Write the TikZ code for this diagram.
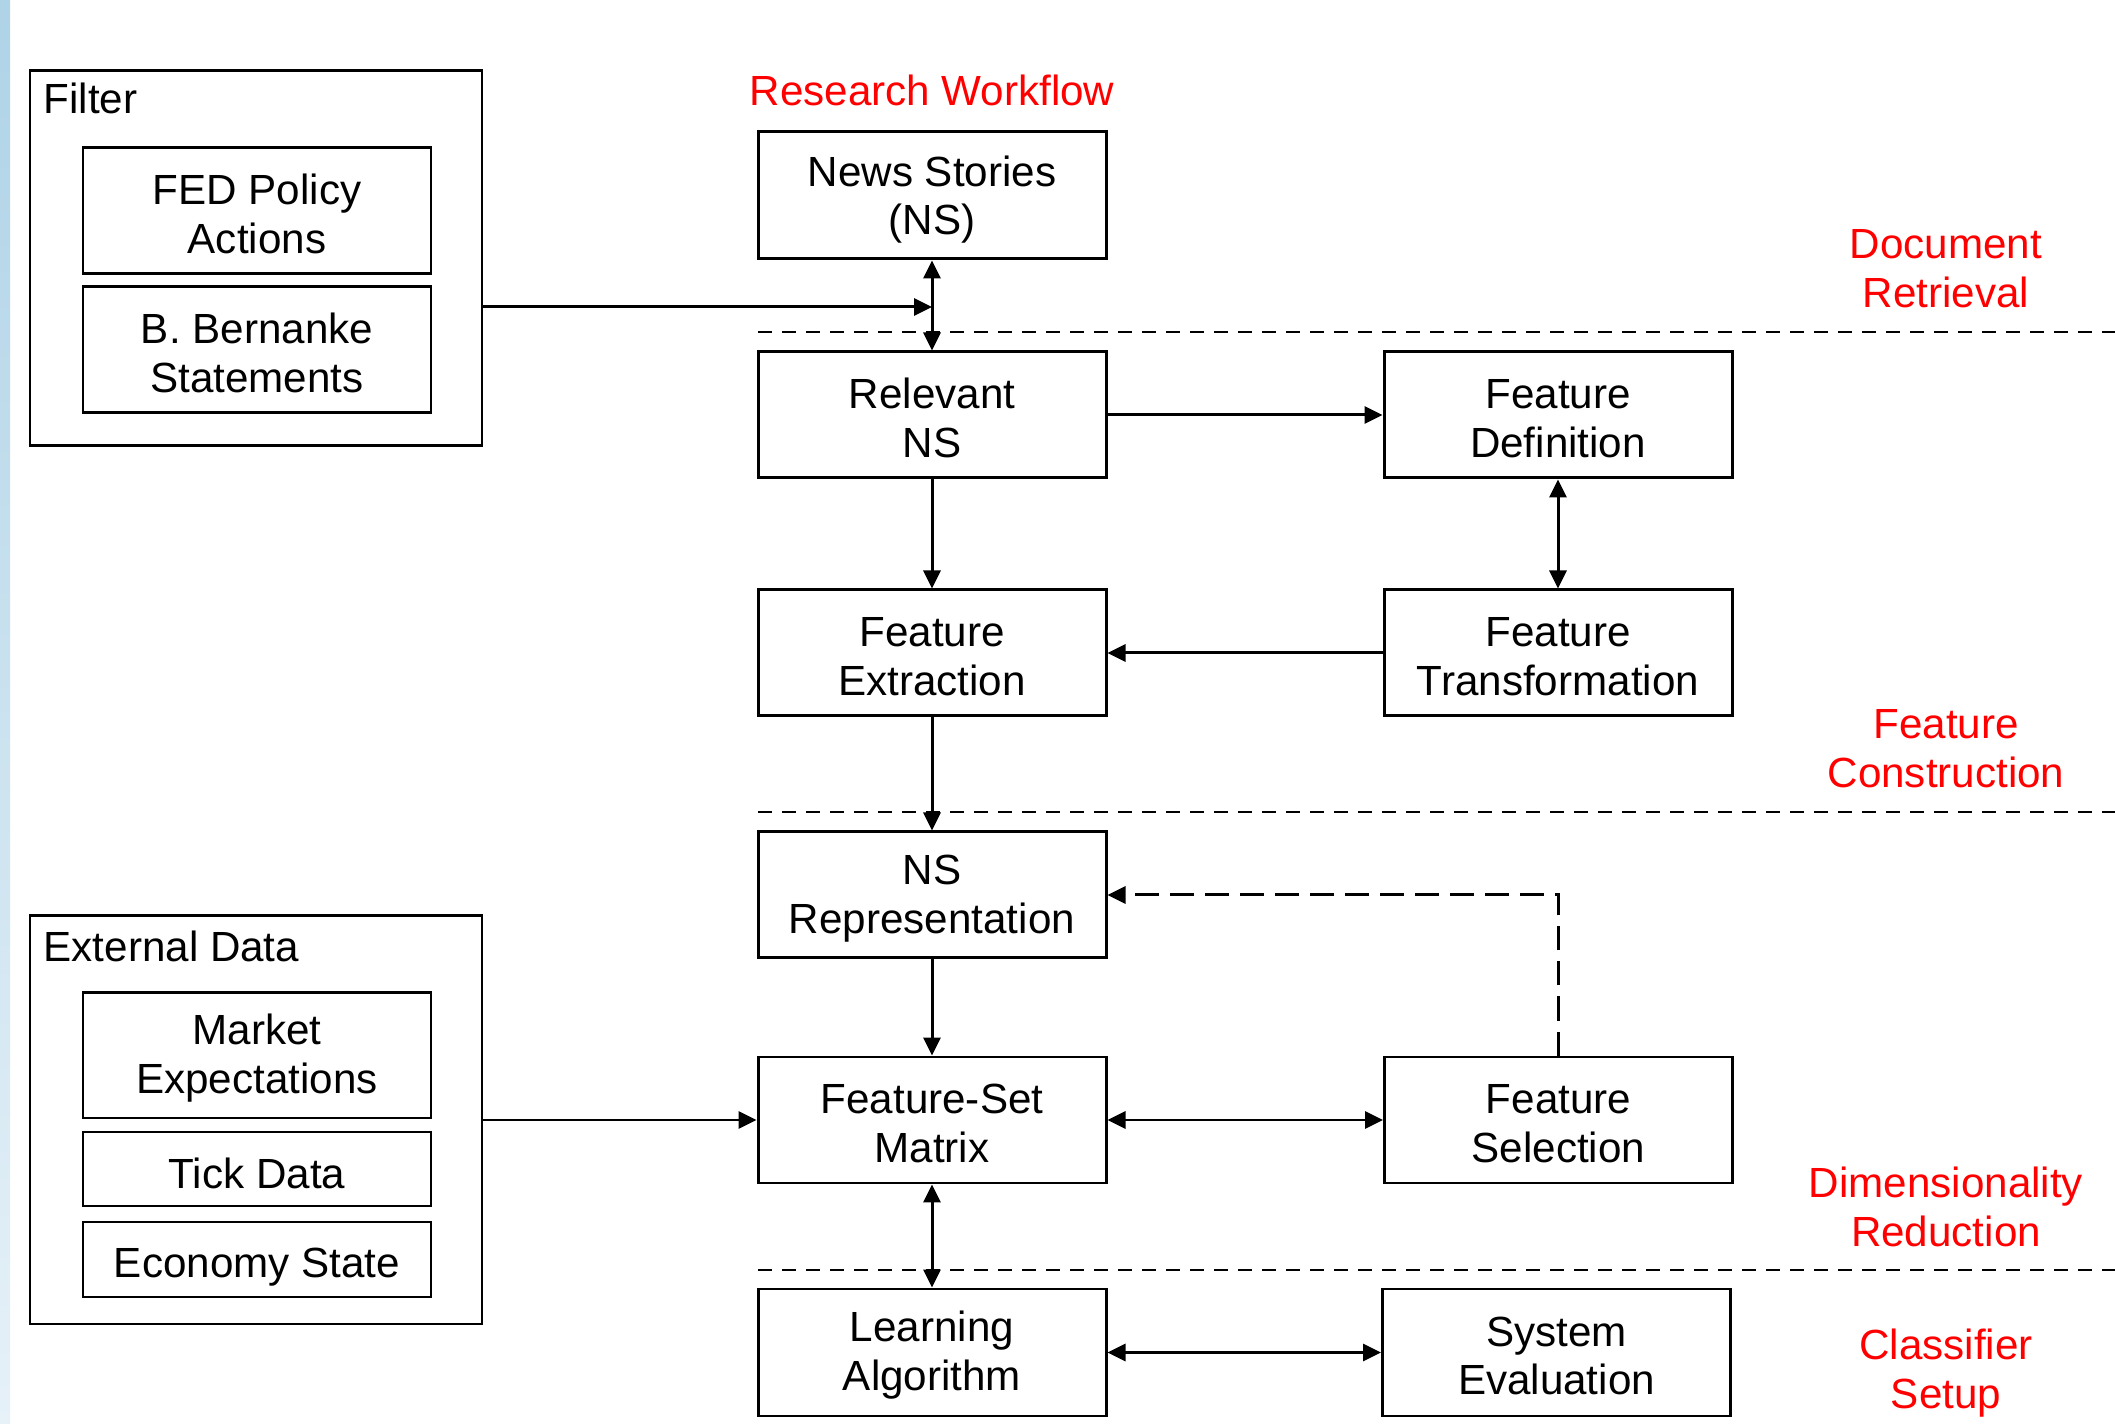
\documentclass[tikz,border=0pt]{standalone}
\usepackage{fontspec}
\setmainfont{Liberation Sans}
\usetikzlibrary{arrows.meta}
\usetikzlibrary{calc}
\definecolor{phase red}{HTML}{FF0000}
\definecolor{strip top}{HTML}{AFD3E7}
\definecolor{strip bottom}{HTML}{E6F1F8}

\newcommand{\boxfont}{\fontsize{12pt}{13.9pt}\selectfont}
\newcommand{\toprule}[1][0.86em]{\rule{0pt}{#1}}% first line a bit taller, text sits lower

\tikzset{
  stagebox/.style = {draw, line width = 0.85pt, minimum width = 3.48cm,
    minimum height = 1.26cm, align = center, inner sep = 0pt, font = \boxfont},
  groupbox/.style = {draw, line width = 0.85pt, inner sep = 0pt},
  group label/.style = {anchor = base west, inner sep = 0pt, font = \boxfont},
  phase label/.style = {text = phase red, align = center, inner sep = 0pt, font = \boxfont},
  phase line/.style = {line width = 0.8pt, dash pattern = on 0.14cm off 0.1cm},
  flow/.style = {line width = 0.85pt, ->},
  feedback/.style = {dash pattern = on 0.24cm off 0.11cm}
}

\begin{document}
\begin{tikzpicture}[x=1cm, y=-1cm, >={Triangle[length=0.18cm, width=0.17cm]}]
  \useasboundingbox (0, 0) rectangle (21.15, 14.24);
  \shade[top color = strip top, bottom color = strip bottom] (0, 0) rectangle (0.1, 14.24);

  % inputs on the left
  \node[groupbox, minimum width = 4.52cm, minimum height = 3.75cm] (filter) at (2.56, 2.585) {};
  \node[group label] (filter label) at (0.43, 1.135) {Filter};
  \node[stagebox] (fed) at (2.57, 2.11) {\toprule FED Policy\\Actions};
  \node[stagebox] (bernanke) at (2.57, 3.50) {\toprule B. Bernanke\\Statements};

  \node[groupbox, minimum width = 4.52cm, minimum height = 4.08cm] (external) at (2.56, 11.20) {};
  \node[group label] (external label) at (0.43, 9.615) {External Data};
  \node[stagebox, minimum height = 1.25cm] (market) at (2.57, 10.555) {\toprule Market\\Expectations};
  \node[stagebox, minimum height = 0.74cm] (tick) at (2.57, 11.69) {\toprule[0.92em]Tick Data};
  \node[stagebox, minimum height = 0.75cm] (economy) at (2.57, 12.595) {\toprule[1.08em]Economy State};

  % workflow
  \node[phase label] (workflow) at (9.32, 0.90) {Research Workflow};
  \node[stagebox, minimum height = 1.27cm] (news) at (9.32, 1.955) {\toprule[0.92em]News Stories\\(NS)};
  \node[stagebox] (relevant) at (9.32, 4.15) {\toprule Relevant\\NS};
  \node[stagebox] (extraction) at (9.32, 6.53) {\toprule Feature\\Extraction};
  \node[stagebox] (representation) at (9.32, 8.95) {\toprule NS\\Representation};
  \node[stagebox] (matrix) at (9.32, 11.20) {\toprule Feature-Set\\Matrix};
  \node[stagebox, minimum height = 1.27cm] (learning) at (9.32, 13.525) {\toprule Learning\\Algorithm};

  \node[stagebox] (definition) at (15.58, 4.15) {\toprule Feature\\Definition};
  \node[stagebox] (transformation) at (15.58, 6.53) {\toprule Feature\\Transformation};
  \node[stagebox] (selection) at (15.585, 11.20) {\toprule Feature\\Selection};
  \node[stagebox, minimum height = 1.27cm] (evaluation) at (15.565, 13.525) {\toprule System\\Evaluation};

  % phases
  \foreach \y in {3.32, 8.12, 12.70}
    \draw[phase line] (7.58, \y) -- (21.15, \y);
  \node[phase label] (retrieval) at (19.46, 2.69) {Document\\Retrieval};
  \node[phase label] (construction) at (19.46, 7.49) {Feature\\Construction};
  \node[phase label] (reduction) at (19.46, 12.07) {Dimensionality\\Reduction};
  \node[phase label] (setup) at (19.46, 13.73) {Classifier\\Setup};

  % connectors
  \coordinate (merge) at (9.32, 3.07);
  \draw[flow] (filter.east |- merge) -- (merge);
  \draw[flow, <->] (news) -- (relevant);
  \draw[flow] (relevant) -- (definition);
  \draw[flow] (relevant) -- (extraction);
  \draw[flow, <->] (definition) -- (transformation);
  \draw[flow] (transformation) -- (extraction);
  \draw[flow] (extraction) -- (representation);
  \draw[flow] (representation) -- (matrix);
  \draw[flow] (external) -- (matrix);
  \draw[flow, <->] (matrix) -- (selection);
  \draw[flow, feedback] (selection.north) |- (representation.east);
  \draw[flow, <->] (matrix) -- (learning);
  \draw[flow, <->] (learning) -- (evaluation);
\end{tikzpicture}
\end{document}
